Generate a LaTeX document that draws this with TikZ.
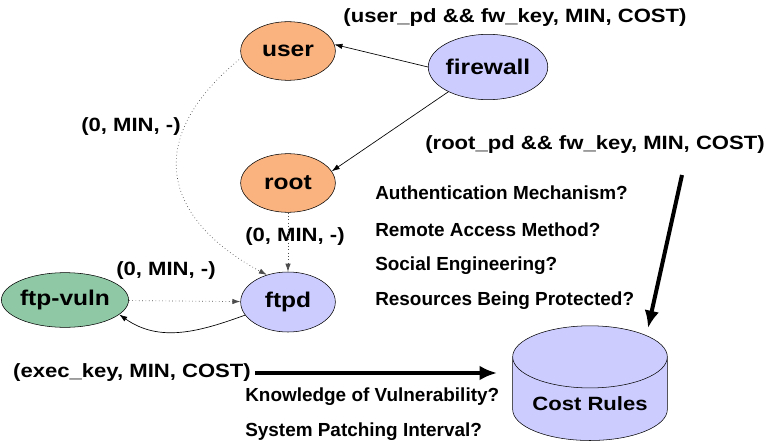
\documentclass[tikz,border=0pt]{standalone}
\usepackage{fontspec}
\setmainfont{Liberation Sans}
\newfontfamily\widefont{Liberation Sans}[FakeStretch=1.15]
\usepackage{tikz}
\usetikzlibrary{calc}
\usetikzlibrary{arrows.meta,positioning,shapes}

\definecolor{privorange}{RGB}{250,178,126}
\definecolor{hostblue}{RGB}{204,204,255}
\definecolor{vulngreen}{RGB}{143,200,165}

\begin{document}
\begin{tikzpicture}[
    x=0.75pt, y=-0.75pt,
    state/.style={
      ellipse,
      draw=black,
      thin,
      inner sep=0pt,
      minimum width=71pt,
      minimum height=44pt,
      font=\widefont\bfseries\fontsize{16}{18}\selectfont
    },
    label/.style={
      inner sep=0pt,
      font=\widefont\bfseries\fontsize{14.4}{17}\selectfont
    },
    question/.style={
      anchor=west,
      inner sep=0pt,
      font=\bfseries\fontsize{14.2}{17}\selectfont
    },
    rules/.style={
      cylinder,
      draw=black,
      thin,
      aspect=0.5,
      minimum height=86pt,
      minimum width=116pt,
      shape border rotate=90,
      cylinder uses custom fill,
      cylinder body fill=hostblue,
      cylinder end fill=hostblue,
      font=\widefont\bfseries\fontsize{14.4}{17}\selectfont
    },
    edge/.style={-{Latex[length=6pt,width=4pt]}, line width=0.5pt},
    dotedge/.style={-{Latex[length=6pt,width=4pt]}, dotted, line width=0.5pt, black!70},
    bigarrow/.style={-{Latex[length=13pt,width=11pt]}, line width=3pt}
]
\useasboundingbox (0,0) rectangle (766,445);

\node [state, fill=privorange] (user) at (288,51) {user};
\node [state, fill=hostblue, minimum width=73.5pt, minimum height=49pt] (firewall) at (488,67) {firewall};
\node [state, fill=privorange] (root) at (288,183) {root};
\node [state, fill=vulngreen, minimum width=72pt, minimum height=41pt] (ftpvuln) at (65,300) {ftp-vuln};
\node [state, fill=hostblue, minimum height=45pt] (ftpd) at (288,302) {ftpd};
\node [rules] (costrules) at (590,404) {Cost Rules};

%% Labels

\node [label] (lbluser) at (515,18) {(user\_pd \&\& fw\_key, MIN, COST)};
\node [label] (lblroot) at (595,145) {(root\_pd \&\& fw\_key, MIN, COST)};
\node [label] (lbluserftpd) at (131,127) {(0, MIN, -)};
\node [label] (lblrootftpd) at (295,237) {(0, MIN, -)};
\node [label] (lblvuln) at (166,271) {(0, MIN, -)};
\node [label] (lblexec) at (132,373) {(exec\_key, MIN, COST)};

\node [question] (qauth) at (375,193) {Authentication Mechanism?};
\node [question] (qremote) at (375,230) {Remote Access Method?};
\node [question] (qsocial) at (375,266) {Social Engineering?};
\node [question] (qresource) at (375,301) {Resources Being Protected?};
\node [question] (qknow) at (245,397) {Knowledge of Vulnerability?};
\node [question] (qpatch) at (245,432) {System Patching Interval?};

\coordinate (rootstart) at (682,175);
\coordinate (rootend) at (648,328);
\coordinate (execend) at (497,373);

%% Arrows

\draw [edge] (firewall.west) -- (user.8);
\draw [edge] (firewall.212) -- (root.15);
\draw [dotedge] (user.188) .. controls (140,140) and (165,220) .. (ftpd.128);
\draw [dotedge] (root) -- (ftpd);
\draw [dotedge] (ftpvuln) -- (ftpd);
\draw [edge] (ftpd.197) to [out=200, in=-35] (ftpvuln.-15);

\draw [bigarrow] (lblexec.east) ++(4,0) -- (execend);
\draw [bigarrow] (rootstart) -- (rootend);

\end{tikzpicture}
\end{document}
